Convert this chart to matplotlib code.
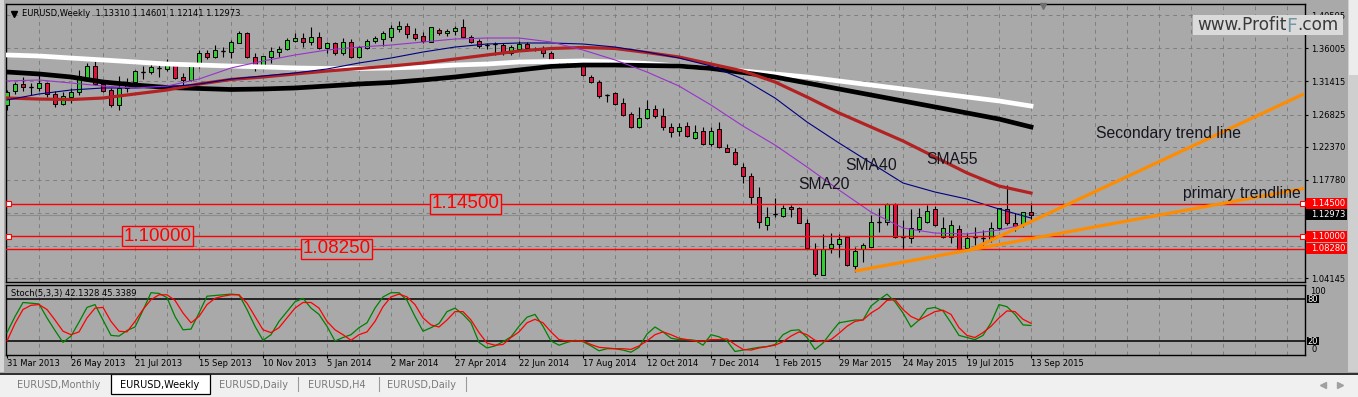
import numpy as np
import matplotlib.pyplot as plt
from matplotlib.patches import Rectangle

plt.rcParams['font.family'] = ['DejaVu Sans']

W, H = 1358, 397
BG = '#A9A9A9'
GRID = '#7E7E7E'
BULL = '#32CD32'
BEAR = '#DC143C'
ARIAL = 'Liberation Sans'

# Weekly EURUSD bars, 31 Mar 2013 .. 13 Sep 2015
opens = [
    1.2816, 1.3009, 1.3107, 1.3065, 1.3051, 1.3120, 1.2968, 1.2830,
    1.2926, 1.2995, 1.3189, 1.3355, 1.3107, 1.3023, 1.2816, 1.3051,
    1.3134, 1.3272, 1.3272, 1.3328, 1.3314, 1.3383, 1.3203, 1.3162,
    1.3383, 1.3535, 1.3480, 1.3563, 1.3549, 1.3674, 1.3812, 1.3480,
    1.3342, 1.3480, 1.3549, 1.3591, 1.3702, 1.3743, 1.3688, 1.3757,
    1.3605, 1.3674, 1.3535, 1.3688, 1.3480, 1.3605, 1.3702, 1.3729,
    1.3757, 1.3868, 1.3909, 1.3799, 1.3771, 1.3688, 1.3854, 1.3812,
    1.3840, 1.3896, 1.3757, 1.3702, 1.3646, 1.3660, 1.3646, 1.3535,
    1.3591, 1.3660, 1.3591, 1.3605, 1.3535, 1.3425, 1.3425, 1.3411,
    1.3397, 1.3203, 1.3134, 1.2954, 1.2981, 1.2843, 1.2691, 1.2511,
    1.2635, 1.2760, 1.2663, 1.2511, 1.2455, 1.2524, 1.2358, 1.2455,
    1.2275, 1.2483, 1.2220, 1.2164, 1.1957, 1.1832, 1.1541, 1.1153,
    1.1306, 1.1278, 1.1403, 1.1389, 1.1181, 1.0821, 1.0461, 1.0835,
    1.0890, 1.0987, 1.0586, 1.0821, 1.0849, 1.1195, 1.1195, 1.1444,
    1.0987, 1.0973, 1.1098, 1.1195, 1.1375, 1.0987, 1.0987, 1.1098,
    1.0835, 1.0987, 1.0973, 1.0959, 1.1112, 1.1375, 1.1181, 1.1167,
    1.13310]
highs = [
    1.3023, 1.3134, 1.3203, 1.3120, 1.3231, 1.3134, 1.3009, 1.2995,
    1.3051, 1.3300, 1.3397, 1.3425, 1.3162, 1.3051, 1.3217, 1.3189,
    1.3300, 1.3355, 1.3397, 1.3383, 1.3453, 1.3411, 1.3258, 1.3397,
    1.3577, 1.3577, 1.3646, 1.3618, 1.3716, 1.3840, 1.3820, 1.3535,
    1.3500, 1.3618, 1.3632, 1.3743, 1.3812, 1.3812, 1.3896, 1.3826,
    1.3688, 1.3688, 1.3743, 1.3729, 1.3632, 1.3729, 1.3771, 1.3840,
    1.3923, 1.3979, 1.3951, 1.3882, 1.3826, 1.3900, 1.3882, 1.3868,
    1.3909, 1.4006, 1.3785, 1.3729, 1.3674, 1.3688, 1.3674, 1.3646,
    1.3702, 1.3688, 1.3618, 1.3632, 1.3563, 1.3453, 1.3439, 1.3425,
    1.3411, 1.3231, 1.3162, 1.2968, 1.2995, 1.2912, 1.2718, 1.2788,
    1.2885, 1.2816, 1.2774, 1.2566, 1.2566, 1.2580, 1.2538, 1.2511,
    1.2511, 1.2580, 1.2275, 1.2220, 1.2012, 1.1873, 1.1680, 1.1403,
    1.1527, 1.1430, 1.1430, 1.1403, 1.1236, 1.0904, 1.1029, 1.1042,
    1.1029, 1.1001, 1.0849, 1.0904, 1.1292, 1.1389, 1.1458, 1.1455,
    1.1223, 1.1375, 1.1389, 1.1430, 1.1416, 1.1264, 1.1223, 1.1153,
    1.1042, 1.1126, 1.1084, 1.1195, 1.1395, 1.1707, 1.1320, 1.1340,
    1.14601]
lows = [
    1.2746, 1.2968, 1.3009, 1.2954, 1.3009, 1.2926, 1.2788, 1.2816,
    1.2843, 1.2954, 1.3162, 1.3093, 1.2995, 1.2788, 1.2746, 1.2995,
    1.3120, 1.3176, 1.3245, 1.3203, 1.3286, 1.3176, 1.3093, 1.3148,
    1.3328, 1.3453, 1.3466, 1.3480, 1.3466, 1.3674, 1.3470, 1.3286,
    1.3335, 1.3397, 1.3480, 1.3577, 1.3688, 1.3618, 1.3646, 1.3591,
    1.3535, 1.3508, 1.3508, 1.3470, 1.3466, 1.3591, 1.3674, 1.3632,
    1.3702, 1.3826, 1.3743, 1.3716, 1.3674, 1.3684, 1.3785, 1.3771,
    1.3785, 1.3743, 1.3674, 1.3605, 1.3591, 1.3508, 1.3508, 1.3508,
    1.3563, 1.3563, 1.3563, 1.3480, 1.3411, 1.3355, 1.3369, 1.3342,
    1.3217, 1.3120, 1.2912, 1.2857, 1.2816, 1.2663, 1.2497, 1.2497,
    1.2621, 1.2635, 1.2469, 1.2372, 1.2386, 1.2372, 1.2350, 1.2261,
    1.2247, 1.2220, 1.2160, 1.1984, 1.1735, 1.1444, 1.1112, 1.1084,
    1.1264, 1.1264, 1.1264, 1.1175, 1.0830, 1.0447, 1.0455, 1.0766,
    1.0710, 1.0586, 1.0502, 1.0641, 1.0845, 1.1056, 1.1153, 1.0980,
    1.0821, 1.0904, 1.1056, 1.1181, 1.1139, 1.0980, 1.0904, 1.0807,
    1.0807, 1.0876, 1.0849, 1.0918, 1.1084, 1.1153, 1.1070, 1.1126,
    1.12141]
closes = [
    1.2995, 1.3107, 1.3065, 1.3065, 1.3120, 1.2968, 1.2830, 1.2940,
    1.2995, 1.3217, 1.3355, 1.3107, 1.3009, 1.2816, 1.3051, 1.3134,
    1.3286, 1.3272, 1.3342, 1.3328, 1.3383, 1.3189, 1.3162, 1.3383,
    1.3535, 1.3480, 1.3577, 1.3563, 1.3688, 1.3812, 1.3480, 1.3342,
    1.3494, 1.3563, 1.3591, 1.3716, 1.3743, 1.3688, 1.3757, 1.3605,
    1.3674, 1.3535, 1.3688, 1.3480, 1.3618, 1.3702, 1.3743, 1.3812,
    1.3882, 1.3909, 1.3799, 1.3743, 1.3702, 1.3896, 1.3812, 1.3840,
    1.3882, 1.3757, 1.3688, 1.3632, 1.3646, 1.3660, 1.3549, 1.3618,
    1.3660, 1.3605, 1.3591, 1.3535, 1.3425, 1.3425, 1.3425, 1.3411,
    1.3231, 1.3134, 1.2940, 1.2954, 1.2830, 1.2677, 1.2511, 1.2635,
    1.2760, 1.2663, 1.2511, 1.2441, 1.2511, 1.2386, 1.2441, 1.2275,
    1.2455, 1.2234, 1.2164, 1.1998, 1.1832, 1.1541, 1.1195, 1.1264,
    1.1306, 1.1389, 1.1375, 1.1181, 1.0835, 1.0475, 1.0821, 1.0890,
    1.0959, 1.0599, 1.0793, 1.0876, 1.1195, 1.1195, 1.1444, 1.0987,
    1.0987, 1.1112, 1.1264, 1.1347, 1.1153, 1.1112, 1.1153, 1.0821,
    1.0973, 1.0987, 1.0973, 1.1112, 1.1389, 1.1181, 1.1139, 1.1334,
    1.12973]

# moving averages, read every 4th week
sma_white = [1.3508, 1.3494, 1.3466, 1.3439, 1.3411, 1.3383, 1.3369, 1.3355,
             1.3342, 1.3328, 1.3321, 1.3321, 1.3328, 1.3342, 1.3369, 1.3383,
             1.3411, 1.3418, 1.3425, 1.3411, 1.3390, 1.3355, 1.3321, 1.3286,
             1.3245, 1.3203, 1.3148, 1.3092, 1.3037, 1.2981, 1.2926, 1.2871,
             1.2801]
sma_black = [1.3272, 1.3245, 1.3203, 1.3134, 1.3092, 1.3058, 1.3044, 1.3030,
             1.3037, 1.3051, 1.3078, 1.3106, 1.3127, 1.3162, 1.3203, 1.3252,
             1.3300, 1.3349, 1.3369, 1.3369, 1.3362, 1.3355, 1.3321, 1.3265,
             1.3203, 1.3120, 1.3037, 1.2954, 1.2871, 1.2788, 1.2705, 1.2621,
             1.2511]
sma55 = [1.2912, 1.2898, 1.2891, 1.2912, 1.2968, 1.3023, 1.3106, 1.3169,
         1.3203, 1.3245, 1.3286, 1.3321, 1.3355, 1.3397, 1.3452, 1.3508,
         1.3563, 1.3598, 1.3612, 1.3598, 1.3542, 1.3480, 1.3383, 1.3286,
         1.3134, 1.2926, 1.2705, 1.2511, 1.2317, 1.2095, 1.1874, 1.1693,
         1.1596]
sma40 = [1.2885, 1.2968, 1.3023, 1.3051, 1.3051, 1.3065, 1.3106, 1.3175,
         1.3217, 1.3259, 1.3314, 1.3397, 1.3466, 1.3549, 1.3618, 1.3660,
         1.3674, 1.3674, 1.3660, 1.3618, 1.3549, 1.3466, 1.3355, 1.3175,
         1.2912, 1.2580, 1.2289, 1.2012, 1.1735, 1.1610, 1.1513, 1.1375,
         1.1250]
sma20 = [1.3148, 1.3162, 1.3120, 1.3078, 1.3051, 1.3078, 1.3175, 1.3328,
         1.3425, 1.3508, 1.3577, 1.3618, 1.3646, 1.3688, 1.3729, 1.3743,
         1.3743, 1.3688, 1.3577, 1.3439, 1.3272, 1.3078, 1.2815, 1.2524,
         1.2261, 1.1957, 1.1638, 1.1333, 1.1112, 1.1042, 1.1029, 1.1084,
         1.1181]

# Stochastic (5,3,3)
stoch_k = [32, 55, 75, 74, 73, 53, 35, 18,
           27, 47, 68, 72, 50, 28, 27, 35,
           40, 64, 89, 88, 82, 55, 36, 37,
           60, 84, 85, 86, 87, 86, 65, 41,
           21, 29, 48, 62, 76, 81, 67, 58,
           41, 20, 25, 29, 39, 46, 67, 83,
           89, 89, 78, 55, 34, 39, 45, 62,
           67, 58, 46, 18, 10, 13, 19, 26,
           41, 54, 58, 41, 20, 14, 18, 21,
           19, 13, 6, 9, 9, 7, 4, 11,
           30, 40, 33, 24, 22, 22, 21, 14,
           29, 26, 20, 5, 7, 9, 11, 12,
           15, 29, 35, 36, 25, 8, 17, 32,
           46, 48, 50, 50, 70, 79, 87, 76,
           60, 40, 50, 66, 68, 63, 46, 28,
           25, 22, 28, 46, 72, 69, 58, 43,
           42.1328]
stoch_d = [20, 45, 65, 71, 72, 65, 50, 34,
           29, 33, 53, 67, 68, 48, 34, 33,
           48, 65, 79, 86, 86, 78, 60, 46,
           55, 72, 81, 84, 86, 86, 74, 55,
           36, 32, 39, 53, 67, 75, 75, 67,
           48, 36, 29, 21, 29, 33, 48, 69,
           83, 87, 83, 72, 53, 43, 40, 50,
           62, 62, 50, 32, 17, 14, 15, 25,
           33, 46, 51, 46, 33, 22, 20, 20,
           20, 15, 11, 10, 9, 9, 8, 13,
           20, 29, 33, 29, 24, 22, 20, 20,
           22, 22, 23, 15, 8, 7, 10, 12,
           14, 19, 27, 33, 29, 21, 19, 22,
           31, 41, 48, 50, 60, 67, 78, 79,
           65, 55, 50, 56, 62, 64, 58, 39,
           28, 25, 32, 41, 53, 63, 62, 51,
           45.3389]

date_labels = ['31 Mar 2013', '26 May 2013', '21 Jul 2013', '15 Sep 2013',
               '10 Nov 2013', '5 Jan 2014', '2 Mar 2014', '27 Apr 2014',
               '22 Jun 2014', '17 Aug 2014', '12 Oct 2014', '7 Dec 2014',
               '1 Feb 2015', '29 Mar 2015', '24 May 2015', '19 Jul 2015',
               '13 Sep 2015']
price_ticks = [1.40595, 1.36005, 1.31415, 1.26825, 1.22370, 1.17780,
               1.13190, 1.08600, 1.04145]
price_tick_labels = ['1.40595', '1.36005', '1.31415', '1.26825', '1.22370',
                     '1.17780', '1.13190', '1.08600', '1.04145']

levels = [1.14500, 1.10000, 1.08250]
level_text = ['1.14500', '1.10000', '1.08250']
bid = 1.12973
scale_boxes = [('1.14500', 1.14500, 'red'), ('1.12973', 1.12973, 'black'),
               ('1.10000', 1.10000, 'red'), ('1.08280', 1.08280, 'red')]

primary_x = [106.0, 162.1]
primary_y = [1.0516, 1.1659]
secondary_x = [120.4, 162.1]
secondary_y = [1.0807, 1.2968]

tab_names = ['EURUSD,Monthly', 'EURUSD,Weekly', 'EURUSD,Daily',
             'EURUSD,H4', 'EURUSD,Daily']

XLIM = (-0.125, 162.25)


def grid_x(ax):
    for k in range(4, 163, 4):
        ax.axvline(k, color=GRID, lw=0.7, ls=(0, (4, 4)), zorder=0.5)


def draw_prices(ax):
    o, h, l, c = map(np.asarray, (opens, highs, lows, closes))
    idx = np.arange(len(o))
    ax.set_facecolor(BG)
    ax.set_xlim(*XLIM)
    ax.set_ylim(1.0364, 1.4214)
    grid_x(ax)
    for p in price_ticks:
        ax.axhline(p, color=GRID, lw=0.7, ls=(0, (4, 4)), zorder=0.5)
    ax.axhline(bid, color='#8C8C8C', lw=0.8, zorder=1)

    # candles
    colors = np.where(c > o, BULL, np.where(c < o, BEAR, 'black'))
    ax.vlines(idx, l, h, color='black', lw=0.8, zorder=2)
    ax.bar(idx, np.abs(c - o), bottom=np.minimum(o, c), width=0.62,
           color=colors, edgecolor='black', linewidth=0.7, zorder=3)
    doji = o == c
    ax.hlines(c[doji], idx[doji] - 0.31, idx[doji] + 0.31,
              color='black', lw=1.0, zorder=3)

    # moving averages
    wk = np.arange(0, len(o), 4)
    ax.plot(wk, sma_white, color='white', lw=3.4, zorder=4)
    ax.plot(wk, sma_black, color='black', lw=3.4, zorder=4)
    ax.plot(wk, sma55, color='#B22222', lw=2.3, zorder=4)
    ax.plot(wk, sma40, color='#000080', lw=0.8, zorder=4)
    ax.plot(wk, sma20, color='#9932CC', lw=0.8, zorder=4)

    # horizontal levels with their boxed captions
    for lv, txt, xc in zip(levels, level_text, [57.3, 18.8, 41.2]):
        ax.axhline(lv, color='red', lw=1.0, zorder=5)
        ax.text(xc, lv, txt, ha='center', va='center', color='red',
                fontsize=13.5, family=ARIAL, zorder=6,
                bbox=dict(boxstyle='square,pad=0.08', fc=BG, ec='red', lw=1.0))

    # trend lines
    ax.plot(primary_x, primary_y, color='#FF8C00', lw=2.3, zorder=5,
            solid_capstyle='butt')
    ax.plot(secondary_x, secondary_y, color='#FF8C00', lw=2.3, zorder=5,
            solid_capstyle='butt')

    for txt, x, y in [('SMA20', 98.9, 1.1721), ('SMA40', 104.75, 1.1977),
                      ('SMA55', 114.9, 1.2060),
                      ('Secondary trend line', 136.1, 1.2427),
                      ('primary trendline', 147.0, 1.1596)]:
        ax.text(x, y, txt, ha='left', va='center', fontsize=11.3,
                family=ARIAL, color='#15151F', zorder=6)

    ax.set_xticks([])
    ax.yaxis.tick_right()
    ax.set_yticks(price_ticks)
    ax.set_yticklabels(price_tick_labels)
    ax.tick_params(axis='y', direction='out', length=2.5, width=0.8, pad=2,
                   labelsize=6, colors='black')
    for s in ax.spines.values():
        s.set_color('black')
        s.set_linewidth(1.0)


def draw_stoch(ax):
    idx = np.arange(len(stoch_k))
    ax.set_facecolor(BG)
    ax.set_xlim(*XLIM)
    ax.set_ylim(0, 100)
    grid_x(ax)
    ax.axhline(80, color='black', lw=1.1, zorder=1)
    ax.axhline(20, color='black', lw=1.1, zorder=1)
    ax.plot(idx, stoch_k, color='#008000', lw=0.9, zorder=3)
    ax.plot(idx, stoch_d, color='#FF0000', lw=0.9, zorder=3)
    ax.set_yticks([])
    ax.set_xticks(np.arange(0, 129, 8))
    ax.set_xticklabels(date_labels, ha='left')
    ax.tick_params(axis='x', direction='out', length=2, width=0.8, pad=1,
                   labelsize=6, colors='black')
    for s in ax.spines.values():
        s.set_color('black')
        s.set_linewidth(1.0)


def draw_chrome(fig, ax, ax2, ov):
    """Window furniture drawn in pixel coordinates on top of the chart."""
    ov.set_xlim(0, W)
    ov.set_ylim(H, 0)
    ov.axis('off')

    def py(a, v):
        return H - a.transData.transform((0, v))[1]

    ov.add_patch(Rectangle((0, 0), 4, 372, fc='#D6D6D6', ec='none'))
    ov.add_patch(Rectangle((1348, 0), 10, 372, fc='#CFCFCF', ec='none'))
    ov.add_patch(Rectangle((1349, 0), 9, 75, fc='#ECECEC', ec='none'))

    ov.plot([13.5], [14], marker='v', ms=4, color='black')
    ov.text(22, 14, 'EURUSD,Weekly  1.13310 1.14601 1.12141 1.12973',
            fontsize=6, va='center')
    ov.plot([1043], [6], marker='v', ms=5, color='#6E6E6E')
    ov.text(11, 293.5, 'Stoch(5,3,3) 42.1328 45.3389', fontsize=6, va='center')

    # coloured price boxes on the scale
    for txt, val, col in scale_boxes:
        y = py(ax, val)
        ov.add_patch(Rectangle((1306, y - 5.5), 41, 11, fc=col, ec='none'))
        ov.text(1311, y, txt, color='white', fontsize=6, va='center')

    # line handles
    for lv in levels[:2]:
        y = py(ax, lv)
        for x in (8, 1302.5):
            ov.add_patch(Rectangle((x - 2.5, y - 2.5), 5, 5, fc='white',
                                   ec='red', lw=0.8))

    # stochastic scale
    ov.text(1310, 291, '100', fontsize=6, va='center')
    ov.text(1311, 349, '0', fontsize=6, va='center')
    for lv in (80, 20):
        y = py(ax2, lv)
        ov.add_patch(Rectangle((1307, y - 4), 12, 8, fc='black', ec='none'))
        ov.text(1313, y, str(lv), color='white', fontsize=6, va='center',
                ha='center')

    # watermark
    ov.add_patch(Rectangle((1193, 15), 150, 20, fc='#DADADA', ec='none'))
    r = fig.canvas.get_renderer()
    x = 1197
    for part, col, fs, base in [('www.Profit', '#3A3A3A', 12.2, 30),
                                ('F', '#7597A3', 13.5, 32.5),
                                ('.com', '#3A3A3A', 12.2, 30)]:
        t = ov.text(x, base, part, color=col, fontsize=fs, va='baseline')
        x += t.get_window_extent(renderer=r).width

    # tab bar
    ov.add_patch(Rectangle((0, 373), W, 24, fc='#F0F0F0', ec='none'))
    ov.plot([0, W], [373.5, 373.5], color='#1E1E1E', lw=1.3)
    ov.add_patch(Rectangle((111, 374), 99, 20, fc='white', ec='black', lw=0.9))
    for x in (298, 379, 466):
        ov.plot([x, x], [377, 391], color='#9A9A9A', lw=0.8)
    for name, x in zip(tab_names, [17, 120, 219, 308, 387]):
        col = 'black' if name == 'EURUSD,Weekly' else '#7A7A7A'
        ov.text(x, 385, name, fontsize=7, va='center', color=col)
    ov.plot([1323], [385], marker='<', ms=4, color='#A0A0A0')
    ov.plot([1340], [385], marker='>', ms=4, color='#A0A0A0')


def main():
    fig = plt.figure(figsize=(W / 100, H / 100), dpi=100)
    fig.patch.set_facecolor(BG)
    ax = fig.add_axes([6 / W, 1 - 282 / H, 1299 / W, 278 / H])
    ax2 = fig.add_axes([6 / W, 1 - 355 / H, 1299 / W, 70 / H])
    ov = fig.add_axes([0, 0, 1, 1], zorder=10)
    ov.patch.set_alpha(0)
    draw_prices(ax)
    draw_stoch(ax2)
    draw_chrome(fig, ax, ax2, ov)
    fig.savefig('out.png', dpi=100, facecolor=BG)


if __name__ == "__main__":
    main()
